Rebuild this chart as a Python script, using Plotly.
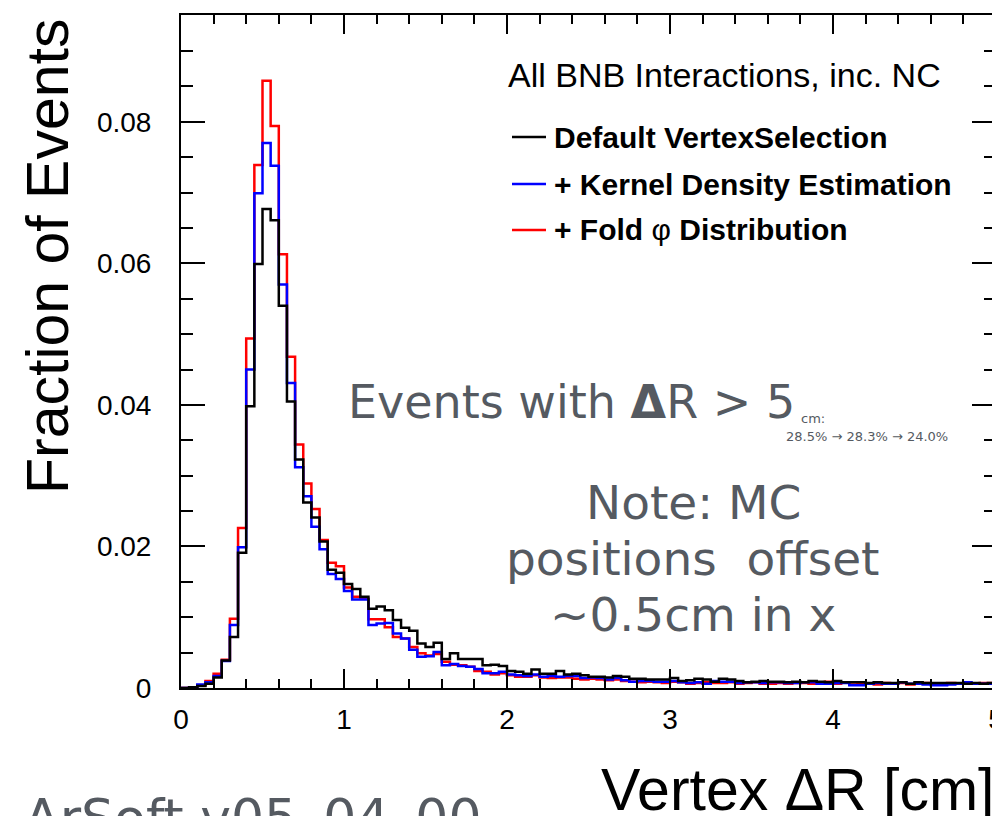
import numpy as np
import plotly.graph_objects as go

# ---------------- data ----------------
bin_width = 0.05
bin_edges = np.round(np.arange(0, 5.0 + 1e-9, bin_width), 2)  # 101 edges, 100 bins

default_vertex = [
    0.0000, 0.0001, 0.0003, 0.0006, 0.0015, 0.0039, 0.0072, 0.0191, 0.0398, 0.0599,
    0.0677, 0.0661, 0.0540, 0.0405, 0.0323, 0.0262, 0.0241, 0.0207, 0.0167, 0.0163,
    0.0147, 0.0140, 0.0129, 0.0112, 0.0115, 0.0110, 0.0096, 0.0085, 0.0081, 0.0063,
    0.0058, 0.0064, 0.0041, 0.0049, 0.0041, 0.0041, 0.0041, 0.0032, 0.0033, 0.0031,
    0.0024, 0.0023, 0.0020, 0.0026, 0.0020, 0.0020, 0.0024, 0.0019, 0.0020, 0.0018,
    0.0016, 0.0016, 0.0015, 0.0017, 0.0016, 0.0013, 0.0013, 0.0012, 0.0012, 0.0012,
    0.0014, 0.0010, 0.0011, 0.0013, 0.0012, 0.0009, 0.0013, 0.0012, 0.0010, 0.0008,
    0.0009, 0.0010, 0.0009, 0.0009, 0.0008, 0.0009, 0.0008, 0.0010, 0.0009, 0.0008,
    0.0010, 0.0008, 0.0008, 0.0008, 0.0007, 0.0008, 0.0007, 0.0007, 0.0008, 0.0006,
    0.0008, 0.0007, 0.0007, 0.0007, 0.0007, 0.0007, 0.0006, 0.0007, 0.0006, 0.0007,
]

kernel_density = [
    0.0000, 0.0001, 0.0005, 0.0008, 0.0017, 0.0038, 0.0089, 0.0199, 0.0450, 0.0699,
    0.0770, 0.0738, 0.0570, 0.0431, 0.0312, 0.0271, 0.0228, 0.0196, 0.0161, 0.0154,
    0.0137, 0.0125, 0.0125, 0.0089, 0.0091, 0.0092, 0.0077, 0.0070, 0.0054, 0.0044,
    0.0045, 0.0051, 0.0032, 0.0034, 0.0031, 0.0030, 0.0027, 0.0021, 0.0021, 0.0023,
    0.0019, 0.0018, 0.0017, 0.0019, 0.0016, 0.0017, 0.0016, 0.0017, 0.0017, 0.0014,
    0.0015, 0.0014, 0.0012, 0.0014, 0.0011, 0.0009, 0.0010, 0.0010, 0.0009, 0.0009,
    0.0010, 0.0008, 0.0007, 0.0008, 0.0006, 0.0010, 0.0009, 0.0009, 0.0007, 0.0008,
    0.0008, 0.0007, 0.0008, 0.0008, 0.0007, 0.0007, 0.0008, 0.0008, 0.0006, 0.0006,
    0.0007, 0.0007, 0.0004, 0.0004, 0.0006, 0.0007, 0.0006, 0.0006, 0.0008, 0.0006,
    0.0006, 0.0005, 0.0004, 0.0004, 0.0005, 0.0006, 0.0008, 0.0006, 0.0006, 0.0006,
]

fold_phi = [
    0.0000, 0.0001, 0.0004, 0.0010, 0.0020, 0.0040, 0.0098, 0.0226, 0.0494, 0.0739,
    0.0858, 0.0794, 0.0613, 0.0468, 0.0344, 0.0289, 0.0253, 0.0209, 0.0177, 0.0172,
    0.0142, 0.0129, 0.0126, 0.0097, 0.0097, 0.0086, 0.0072, 0.0070, 0.0058, 0.0049,
    0.0046, 0.0048, 0.0037, 0.0033, 0.0032, 0.0030, 0.0024, 0.0023, 0.0019, 0.0021,
    0.0018, 0.0016, 0.0016, 0.0018, 0.0015, 0.0014, 0.0015, 0.0015, 0.0013, 0.0012,
    0.0013, 0.0012, 0.0011, 0.0012, 0.0010, 0.0009, 0.0008, 0.0009, 0.0008, 0.0007,
    0.0009, 0.0008, 0.0006, 0.0007, 0.0008, 0.0007, 0.0007, 0.0008, 0.0006, 0.0007,
    0.0008, 0.0006, 0.0006, 0.0007, 0.0006, 0.0007, 0.0007, 0.0006, 0.0007, 0.0009,
    0.0006, 0.0008, 0.0005, 0.0006, 0.0006, 0.0005, 0.0007, 0.0006, 0.0007, 0.0005,
    0.0006, 0.0007, 0.0006, 0.0005, 0.0007, 0.0006, 0.0006, 0.0006, 0.0007, 0.0007,
]

series_names = ["Default VertexSelection", "+ Kernel Density Estimation", "+ Fold \u03c6 Distribution"]
series_colors = ["#000000", "#0000ff", "#ff0000"]

x_tick_vals = [0, 1, 2, 3, 4, 5]
x_tick_text = ["0", "1", "2", "3", "4", "5"]
y_tick_vals = [0, 0.02, 0.04, 0.06, 0.08]
y_tick_text = ["0", "0.02", "0.04", "0.06", "0.08"]

assert len(default_vertex) == len(kernel_density) == len(fold_phi) == len(bin_edges) - 1

# ---------------- figure ----------------
# The page body has an 8px default margin; the figure is sized so that it
# fills the 1000x816 window exactly.
OFF = 8
W, H = 1000 - OFF, 816 - OFF
# plot area in page pixels
PL, PR, PT, PB = 181, 996, 15, 688
L, T = PL - OFF, PT - OFF
R = W - (PR - OFF)
B = H - (PB - OFF)
PW, PH = PR - PL, PB - PT


def px(xp):  # page pixel -> paper x
    return (xp - PL) / PW


def py(yp):  # page pixel -> paper y
    return (PB - yp) / PH


fig = go.Figure()

series = [default_vertex, kernel_density, fold_phi]
draw_order = [2, 1, 0]
for i in draw_order:
    vals = list(series[i]) + [series[i][-1]]
    fig.add_trace(go.Scatter(
        x=bin_edges, y=vals, mode="lines", line_shape="hv",
        line=dict(color=series_colors[i], width=2.5),
        name=series_names[i], showlegend=False, hoverinfo="skip",
    ))

HELV = "Liberation Sans, Arial, Helvetica, sans-serif"
GRAYF = "DejaVu Sans, Verdana, sans-serif"
GRAY = "#555a61"

fig.update_layout(
    width=W, height=H,
    margin=dict(l=L, r=R, t=T, b=B, pad=0, autoexpand=False),
    paper_bgcolor="white", plot_bgcolor="white",
    showlegend=False,
    xaxis=dict(
        range=[0, 5], tickmode="array", tickvals=x_tick_vals, ticktext=x_tick_text,
        ticks="inside", ticklen=19, tickwidth=2, tickcolor="black",
        showline=True, linewidth=2, linecolor="black", mirror="ticks",
        showgrid=False, zeroline=False,
        tickfont=dict(family=HELV, size=28, color="black"),
        ticklabelstandoff=5, ticklabeloverflow="allow",
        minor=dict(dtick=0.2, tick0=0, ticks="inside", ticklen=9, tickwidth=2,
                   tickcolor="black", showgrid=False),
    ),
    yaxis=dict(
        range=[0, 0.0951], tickmode="array", tickvals=y_tick_vals, ticktext=y_tick_text,
        ticks="inside", ticklen=24, tickwidth=2, tickcolor="black",
        showline=True, linewidth=2, linecolor="black", mirror="ticks",
        showgrid=False, zeroline=False,
        tickfont=dict(family=HELV, size=28, color="black"),
        ticklabelstandoff=22, ticklabeloverflow="allow",
        minor=dict(dtick=0.005, tick0=0, ticks="inside", ticklen=12, tickwidth=2,
                   tickcolor="black", showgrid=False),
    ),
)

ann = []
# axis titles
ann.append(dict(text="Fraction of Events", xref="paper", yref="paper",
                x=px(48), y=py(16), xanchor="center", yanchor="top", textangle=-90,
                showarrow=False, font=dict(family=HELV, size=59, color="black")))
ann.append(dict(text="Vertex \u0394R [cm]", xref="paper", yref="paper",
                x=px(997), y=py(790), xanchor="right", yanchor="middle",
                showarrow=False, font=dict(family=HELV, size=59, color="black")))

# legend
ann.append(dict(text="All BNB Interactions, inc. NC", xref="paper", yref="paper",
                x=px(506), y=py(75), xanchor="left", yanchor="middle",
                showarrow=False, font=dict(family=HELV, size=34, color="black")))
legend_y = [137, 184, 230]
legend_labels = ["<b>Default VertexSelection</b>", "<b>+ Kernel Density Estimation</b>",
                 "<b>+ Fold </b>\u03c6<b> Distribution</b>"]
shapes = []
for i in range(3):
    ann.append(dict(text=legend_labels[i], xref="paper", yref="paper",
                    x=px(552), y=py(legend_y[i]), xanchor="left", yanchor="middle",
                    showarrow=False, font=dict(family=HELV, size=30, color="black")))
    shapes.append(dict(type="line", xref="paper", yref="paper",
                       x0=px(512), x1=px(546), y0=py(legend_y[i]), y1=py(legend_y[i]),
                       line=dict(color=series_colors[i], width=2.5)))

# gray notes
ann.append(dict(text="Events with <b>\u0394</b>R > 5", xref="paper", yref="paper",
                x=px(346), y=py(402), xanchor="left", yanchor="middle",
                showarrow=False, font=dict(family=GRAYF, size=46, color=GRAY)))
ann.append(dict(text="cm:", xref="paper", yref="paper",
                x=px(799), y=py(418), xanchor="left", yanchor="middle",
                showarrow=False, font=dict(family=GRAYF, size=13, color=GRAY)))
ann.append(dict(text="28.5% \u2192 28.3% \u2192 24.0%", xref="paper", yref="paper",
                x=px(784), y=py(436), xanchor="left", yanchor="middle",
                showarrow=False, font=dict(family=GRAYF, size=13, color=GRAY)))
note_lines = ["Note: MC", "positions\u00a0 offset", "~0.5cm in x"]
note_y = [502, 558, 614]
for t, yy in zip(note_lines, note_y):
    ann.append(dict(text=t, xref="paper", yref="paper", height=52,
                    x=px(693), y=py(yy), xanchor="center", yanchor="middle",
                    showarrow=False, font=dict(family=GRAYF, size=47, color=GRAY)))
ann.append(dict(text="LArSoft v05_04_00", xref="paper", yref="paper",
                x=px(-8), y=py(818), xanchor="left", yanchor="middle",
                showarrow=False, font=dict(family=GRAYF, size=52, color=GRAY)))

fig.update_layout(annotations=ann, shapes=shapes)
fig.write_html("out.html")
